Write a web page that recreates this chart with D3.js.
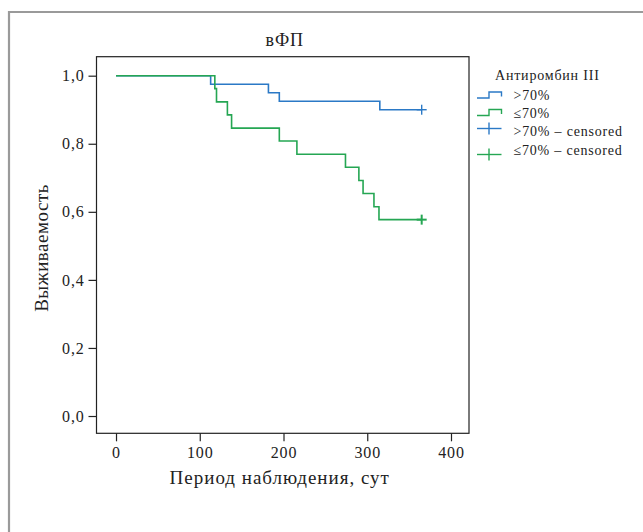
<!DOCTYPE html>
<html>
<head>
<meta charset="utf-8">
<script src="https://cdn.jsdelivr.net/npm/d3@7"></script>
<style>
  body { margin: 0; background: #fff; }
  text { font-family: "Liberation Serif", "DejaVu Serif", serif; fill: #222; }
</style>
</head>
<body>
<div id="chart"></div>
<script>
var svgWidth = 643;
var svgHeight = 532;

// plot box in page pixels
var margin = { top: 56.7, left: 96.5 };
var width = 372.5;
var height = 376.6;

// Kaplan-Meier steps (time in days, survival)
var highTimes = [0, 113, 182, 195, 315, 365];
var highSurv = [1.0, 0.975, 0.95, 0.925, 0.90, 0.90];
var lowTimes = [0, 118, 120, 133, 138, 195, 216, 274, 290, 295, 308, 314, 365];
var lowSurv = [1.0, 0.962, 0.923, 0.885, 0.846, 0.808, 0.769, 0.731, 0.692, 0.654, 0.615, 0.577, 0.577];
var highCensored = [365];
var lowCensored = [365];

var xTicks = [0, 100, 200, 300, 400];
var yTicks = [0, 0.2, 0.4, 0.6, 0.8, 1.0];

var legendTitle = "Антиромбин III";
var legendLabels = [">70%", "\u226470%", ">70% \u2013 censored", "\u226470% \u2013 censored"];

var blue = "#2b79c6";
var green = "#25a653";

var svg = d3.select("#chart")
  .append("svg")
  .attr("width", svgWidth)
  .attr("height", svgHeight);

// outer grey frame (only top and left edges show)
svg.append("path")
  .attr("d", "M9,532 V12 H643")
  .attr("fill", "none")
  .attr("stroke", "#9a9a9a")
  .attr("stroke-width", 2.2);

var chartGroup = svg.append("g")
  .attr("transform", `translate(${margin.left}, ${margin.top})`);

var xScale = d3.scaleLinear()
  .domain([-23.3, 421.5])
  .range([0, width]);

var yScale = d3.scaleLinear()
  .domain([-0.0508, 1.0558])
  .range([height, 0]);

// box
chartGroup.append("rect")
  .attr("x", 0)
  .attr("y", 0)
  .attr("width", width)
  .attr("height", height)
  .attr("fill", "none")
  .attr("stroke", "#222")
  .attr("stroke-width", 1.2);

var bottomAxis = d3.axisBottom(xScale)
  .tickValues(xTicks)
  .tickSize(8)
  .tickPadding(5)
  .tickFormat(d3.format("d"));

var leftAxis = d3.axisLeft(yScale)
  .tickValues(yTicks)
  .tickSize(8)
  .tickPadding(4)
  .tickFormat(d => d3.format(".1f")(d).replace(".", ","));

var xAxis = chartGroup.append("g")
  .attr("transform", `translate(0, ${height})`)
  .call(bottomAxis);

var yAxis = chartGroup.append("g")
  .call(leftAxis);

[xAxis, yAxis].forEach(function (ax) {
  ax.attr("font-family", null).attr("font-size", null);
  ax.select(".domain").remove();
  ax.selectAll(".tick line").attr("stroke", "#222").attr("stroke-width", 1.2);
  ax.selectAll(".tick text")
    .style("font-size", "16px")
    .style("letter-spacing", "0.8px")
    .attr("fill", "#222");
});

// step curves
var stepLine = d3.line()
  .x(d => xScale(d[0]))
  .y(d => yScale(d[1]))
  .curve(d3.curveStepAfter);

function drawCurve(times, surv, color) {
  var pts = times.map((t, i) => [t, surv[i]]);
  chartGroup.append("path")
    .datum(pts)
    .attr("d", stepLine)
    .attr("fill", "none")
    .attr("stroke", color)
    .attr("stroke-width", 1.6);
}

drawCurve(highTimes, highSurv, blue);
drawCurve(lowTimes, lowSurv, green);

function drawCensored(times, surv, allTimes, color, w) {
  times.forEach(function (t) {
    // survival at censoring time = last step at or before t
    var idx = d3.bisectRight(allTimes, t) - 1;
    var cx = xScale(t), cy = yScale(surv[idx]);
    chartGroup.append("line")
      .attr("x1", cx - 5).attr("x2", cx + 5)
      .attr("y1", cy).attr("y2", cy)
      .attr("stroke", color).attr("stroke-width", w);
    chartGroup.append("line")
      .attr("x1", cx).attr("x2", cx)
      .attr("y1", cy - 5).attr("y2", cy + 5)
      .attr("stroke", color).attr("stroke-width", w);
  });
}

drawCensored(highCensored, highSurv, highTimes, blue, 1.4);
drawCensored(lowCensored, lowSurv, lowTimes, green, 2);

// title
svg.append("text")
  .attr("x", margin.left + width / 2 + 2)
  .attr("y", 46)
  .attr("text-anchor", "middle")
  .style("font-size", "18px")
  .style("letter-spacing", "1px")
  .text("вФП");

// axis labels
svg.append("text")
  .attr("x", margin.left + width / 2 - 3)
  .attr("y", 484)
  .attr("text-anchor", "middle")
  .style("font-size", "19px")
  .style("letter-spacing", "1px")
  .text("Период наблюдения, сут");

svg.append("text")
  .attr("transform", "translate(48, 248) rotate(-90)")
  .attr("text-anchor", "middle")
  .style("font-size", "19px")
  .style("letter-spacing", "0.5px")
  .text("Выживаемость");

// legend
var legend = svg.append("g").attr("transform", "translate(477, 0)");

legend.append("text")
  .attr("x", 18)
  .attr("y", 80)
  .style("font-size", "14px")
  .style("letter-spacing", "0.8px")
  .text(legendTitle);

var legendColors = [blue, green, blue, green];
var legendY = [95.5, 113, 131.5, 150.5];

legendLabels.forEach(function (lab, i) {
  var y = legendY[i];
  var c = legendColors[i];
  if (i < 2) {
    legend.append("path")
      .attr("d", `M0,${y + 2.5} H12 V${y - 3.5} H24.5 V${y + 1}`)
      .attr("fill", "none")
      .attr("stroke", c)
      .attr("stroke-width", 1.4);
  } else {
    var yy = i === 3 ? y + 4 : y - 3;
    legend.append("line")
      .attr("x1", 0).attr("x2", 24.5)
      .attr("y1", yy).attr("y2", yy)
      .attr("stroke", c).attr("stroke-width", 1.4);
    legend.append("line")
      .attr("x1", 12).attr("x2", 12)
      .attr("y1", yy - 6).attr("y2", yy + 6)
      .attr("stroke", c).attr("stroke-width", 1.4);
  }
  legend.append("text")
    .attr("x", 36.5)
    .attr("y", y + 4.5)
    .style("font-size", "14px")
    .style("letter-spacing", "0.8px")
    .text(lab);
});
</script>
</body>
</html>
